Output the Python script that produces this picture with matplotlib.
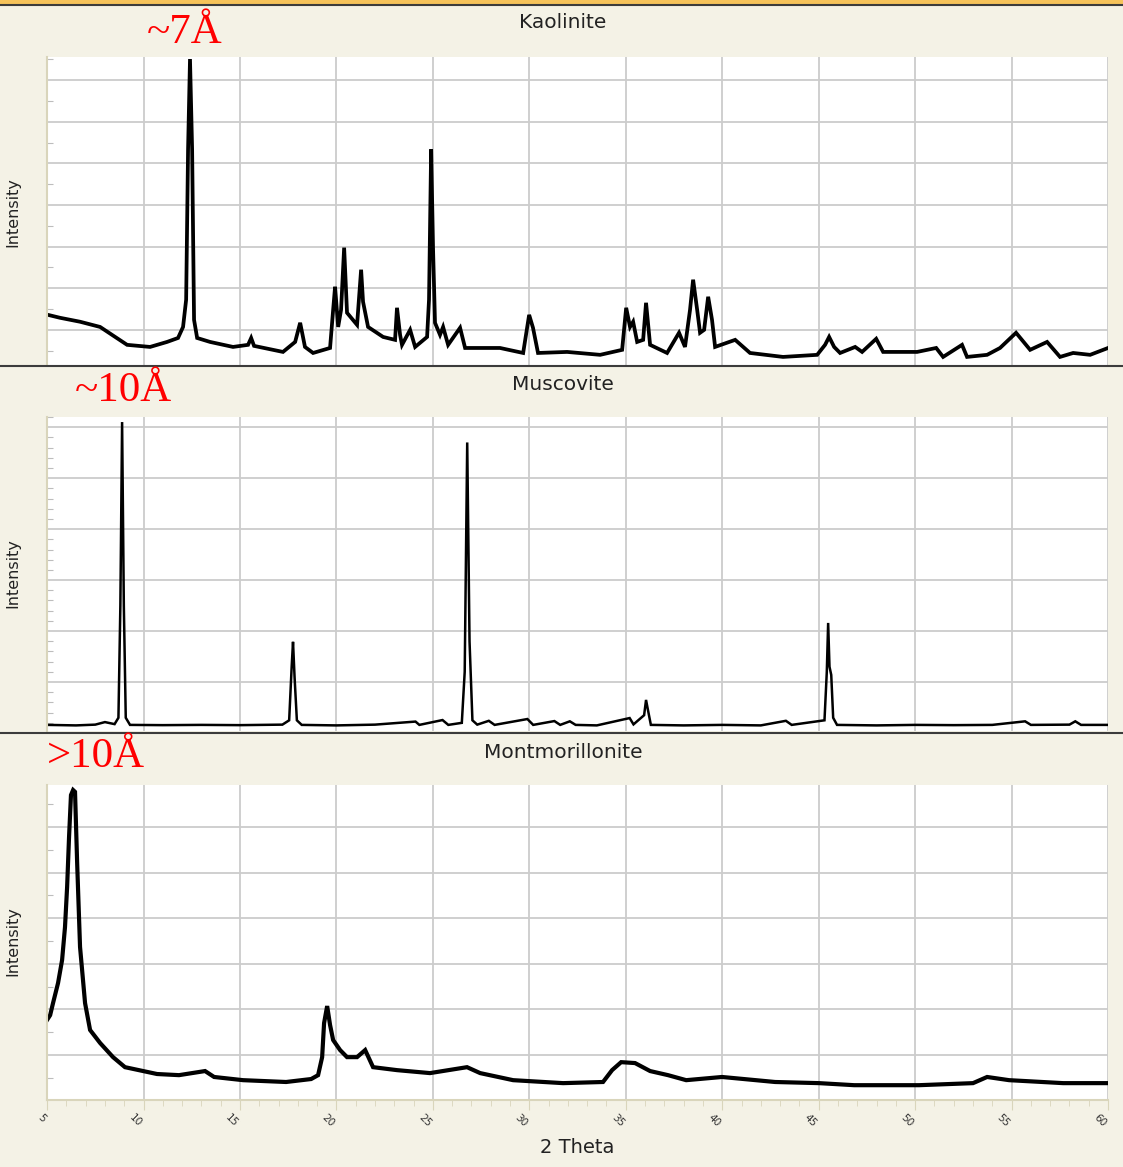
import matplotlib
matplotlib.use("Agg")
import matplotlib.pyplot as plt
from matplotlib.ticker import MultipleLocator
from matplotlib.lines import Line2D
from matplotlib.patches import Rectangle

# ---- data (2 Theta in degrees, intensity in counts) ----
kaol_2theta = [5.05, 5.67, 6.71, 7.75, 8.53, 9.15, 10.34, 11.22, 11.79, 12.05, 12.21, 12.31,
               12.41, 12.52, 12.62, 12.78, 13.45, 14.64, 15.42, 15.58, 15.73, 17.23, 17.86,
               18.12, 18.37, 18.79, 19.67, 19.83, 19.93, 20.09, 20.24, 20.40, 20.55, 21.07,
               21.28, 21.38, 21.64, 22.42, 23.04, 23.14, 23.30, 23.40, 23.82, 24.08, 24.70,
               24.80, 24.91, 25.01, 25.11, 25.37, 25.53, 25.79, 26.41, 26.67, 28.48, 29.68,
               29.99, 30.19, 30.45, 31.96, 33.67, 34.81, 35.02, 35.22, 35.38, 35.59, 35.90,
               36.05, 36.26, 37.14, 37.76, 38.07, 38.33, 38.49, 38.70, 38.85, 39.06, 39.27,
               39.47, 39.63, 40.67, 41.44, 43.15, 44.92, 45.33, 45.54, 45.80, 46.11, 46.89,
               47.25, 47.98, 48.34, 50.10, 51.09, 51.45, 52.43, 52.69, 53.73, 54.40, 55.23,
               55.96, 56.84, 57.51, 58.19, 59.07, 60.0]
kaol_int = [272, 258, 239, 214, 166, 128, 118, 142, 161, 214, 345, 1067,
            1501, 1067, 248, 161, 142, 118, 128, 161, 123, 94, 142,
            234, 118, 89, 113, 296, 407, 214, 296, 595, 282, 224,
            489, 335, 214, 166, 152, 306, 176, 128, 200, 118, 166,
            345, 1067, 586, 234, 176, 214, 128, 210, 113, 113, 89,
            272, 210, 89, 94, 80, 104, 306, 214, 239, 142, 152,
            330, 128, 89, 186, 118, 296, 441, 296, 186, 200, 359,
            248, 118, 152, 89, 70, 80, 128, 166, 118, 89, 118,
            94, 157, 94, 94, 113, 70, 128, 70, 80, 113, 186,
            104, 142, 70, 89, 80, 113]

musc_2theta = [5.0, 6.5, 7.5, 8.0, 8.5, 8.70, 8.80, 8.89, 8.98, 9.08, 9.3, 11.0, 13.0, 15.0,
               17.2, 17.55, 17.68, 17.75, 17.83, 17.95, 18.2, 20.0, 22.0, 24.1, 24.3, 25.5,
               25.8, 26.5, 26.65, 26.78, 26.90, 27.05, 27.3, 27.9, 28.2, 29.9, 30.2, 31.3,
               31.6, 32.1, 32.4, 33.5, 35.2, 35.4, 35.95, 36.05, 36.15, 36.3, 38.0, 40.0,
               42.0, 43.3, 43.6, 45.3, 45.42, 45.49, 45.56, 45.65, 45.75, 45.95, 48.0, 50.0,
               52.0, 54.0, 55.7, 56.0, 58.0, 58.3, 58.6, 60.0]
musc_int = [160, 150, 165, 215, 175, 300, 2500, 6100, 2500, 300, 160, 155, 160, 155,
            165, 250, 1300, 1790, 1100, 250, 160, 150, 165, 225, 160, 255,
            160, 200, 1200, 5700, 1800, 250, 165, 240, 160, 275, 160, 235,
            160, 230, 160, 150, 294, 170, 350, 650, 450, 160, 150, 160,
            150, 240, 160, 250, 1200, 2160, 1300, 1140, 300, 160, 150, 160,
            155, 160, 230, 160, 165, 230, 160, 160]

mont_2theta = [5.00, 5.16, 5.31, 5.57, 5.78, 5.93, 6.04, 6.14, 6.24, 6.35, 6.45, 6.56, 6.71,
               6.97, 7.23, 7.75, 8.42, 9.04, 10.70, 11.84, 13.19, 13.66, 15.16, 17.39,
               18.69, 19.05, 19.26, 19.36, 19.52, 19.67, 19.83, 20.19, 20.55, 21.07, 21.49,
               21.90, 23.14, 24.85, 26.77, 27.45, 29.16, 31.75, 33.82, 34.29, 34.76, 35.48,
               36.26, 37.19, 38.13, 39.99, 42.74, 45.02, 46.84, 50.20, 53.00, 53.73, 54.87,
               57.67, 60.00]
mont_int = [354, 375, 428, 516, 617, 761, 937, 1156, 1340, 1362, 1354, 1042, 674,
            428, 310, 253, 191, 147, 117, 112, 130, 104, 90, 82,
            95, 112, 191, 340, 415, 332, 266, 222, 191, 191, 222,
            147, 134, 121, 147, 121, 90, 77, 82, 134, 169, 165,
            130, 112, 90, 104, 82, 77, 68, 68, 77, 104, 90,
            77, 77]

titles = ["Kaolinite", "Muscovite", "Montmorillonite"]
spacings = ["~7Å", "~10Å", ">10Å"]

BG = "#f4f2e6"
GRID = "#cccccc"
PALE = "#d9d5bb"

fig = plt.figure(figsize=(11.23, 11.67), dpi=100, facecolor=BG)

# panel rectangles in figure fractions (left, bottom, width, height)
rects = [[0.0419, 0.6872, 0.9448, 0.2640],
         [0.0419, 0.3736, 0.9448, 0.2691],
         [0.0419, 0.0574, 0.9448, 0.2699]]
ylims = [(31, 1511), (40, 6200), (3, 1384)]
grid_steps = [200, 1000, 200]
minor_steps = [100, 200, 100]
series = [(kaol_2theta, kaol_int, 2.7), (musc_2theta, musc_int, 1.8), (mont_2theta, mont_int, 3.0)]

axes = []
for i in range(3):
    ax = fig.add_axes(rects[i])
    ax.set_facecolor("white")
    x, y, lw = series[i]
    ax.plot(x, y, color="black", lw=lw, solid_joinstyle="miter")
    ax.set_xlim(5, 60)
    ax.set_ylim(*ylims[i])
    ax.xaxis.set_major_locator(MultipleLocator(5))
    ax.yaxis.set_major_locator(MultipleLocator(grid_steps[i]))
    ax.yaxis.set_minor_locator(MultipleLocator(minor_steps[i]))
    ax.grid(True, which="major", color=GRID, lw=1.3)
    ax.set_axisbelow(True)
    ax.tick_params(axis="y", which="major", length=0, labelleft=False)
    ax.tick_params(axis="y", which="minor", length=4, direction="in", color="#bdbdbd", width=0.8)
    ax.spines["top"].set_visible(False)
    ax.spines["right"].set_visible(False)
    ax.spines["left"].set_color(PALE)
    ax.spines["left"].set_linewidth(1.5)
    if i < 2:
        ax.spines["bottom"].set_visible(False)
        ax.tick_params(axis="x", which="both", length=0, labelbottom=False)
    else:
        ax.spines["bottom"].set_color(PALE)
        ax.spines["bottom"].set_linewidth(1.5)
        ax.xaxis.set_minor_locator(MultipleLocator(1))
        ax.tick_params(axis="x", which="major", length=7, direction="out", color=PALE,
                       labelsize=7.5, labelcolor="#333333", pad=2)
        ax.tick_params(axis="x", which="minor", length=4, direction="out", color=PALE)
        for lab in ax.get_xticklabels():
            lab.set_rotation(-45)
            lab.set_ha("right")
            lab.set_va("top")
    axes.append(ax)

# title, red spacing note and y label of every panel
title_y = [0.9803, 0.6701, 0.3556]
note_xy = [(0.1643, 0.9717), (0.1100, 0.6650), (0.0855, 0.3513)]
ylab_y = [0.8183, 0.5090, 0.1937]
for i in range(3):
    fig.text(0.5013, title_y[i], titles[i], ha="center", va="center", fontsize=14.5, color="#222222")
    fig.text(note_xy[i][0], note_xy[i][1], spacings[i], ha="center", va="center",
             fontsize=31, color="red", family="Liberation Serif")
    fig.text(0.0116, ylab_y[i], "Intensity", rotation=90, ha="center", va="center",
             fontsize=11.5, color="#222222")

fig.text(0.5138, 0.0163, "2 Theta", ha="center", va="center", fontsize=14, color="#222222")

# window chrome: orange strip on top and dark separators between panels
H = 1167.0
fig.patches.append(Rectangle((0, 1 - 4 / H), 1, 4 / H, transform=fig.transFigure,
                             facecolor="#f6c35a", edgecolor="none"))
for ypx in [4.5, 366, 733]:
    fig.lines.append(Line2D([0, 1], [1 - ypx / H] * 2, transform=fig.transFigure,
                            color="#3c3c3c", lw=1.5))

fig.savefig("out.png", dpi=100, facecolor=BG)
